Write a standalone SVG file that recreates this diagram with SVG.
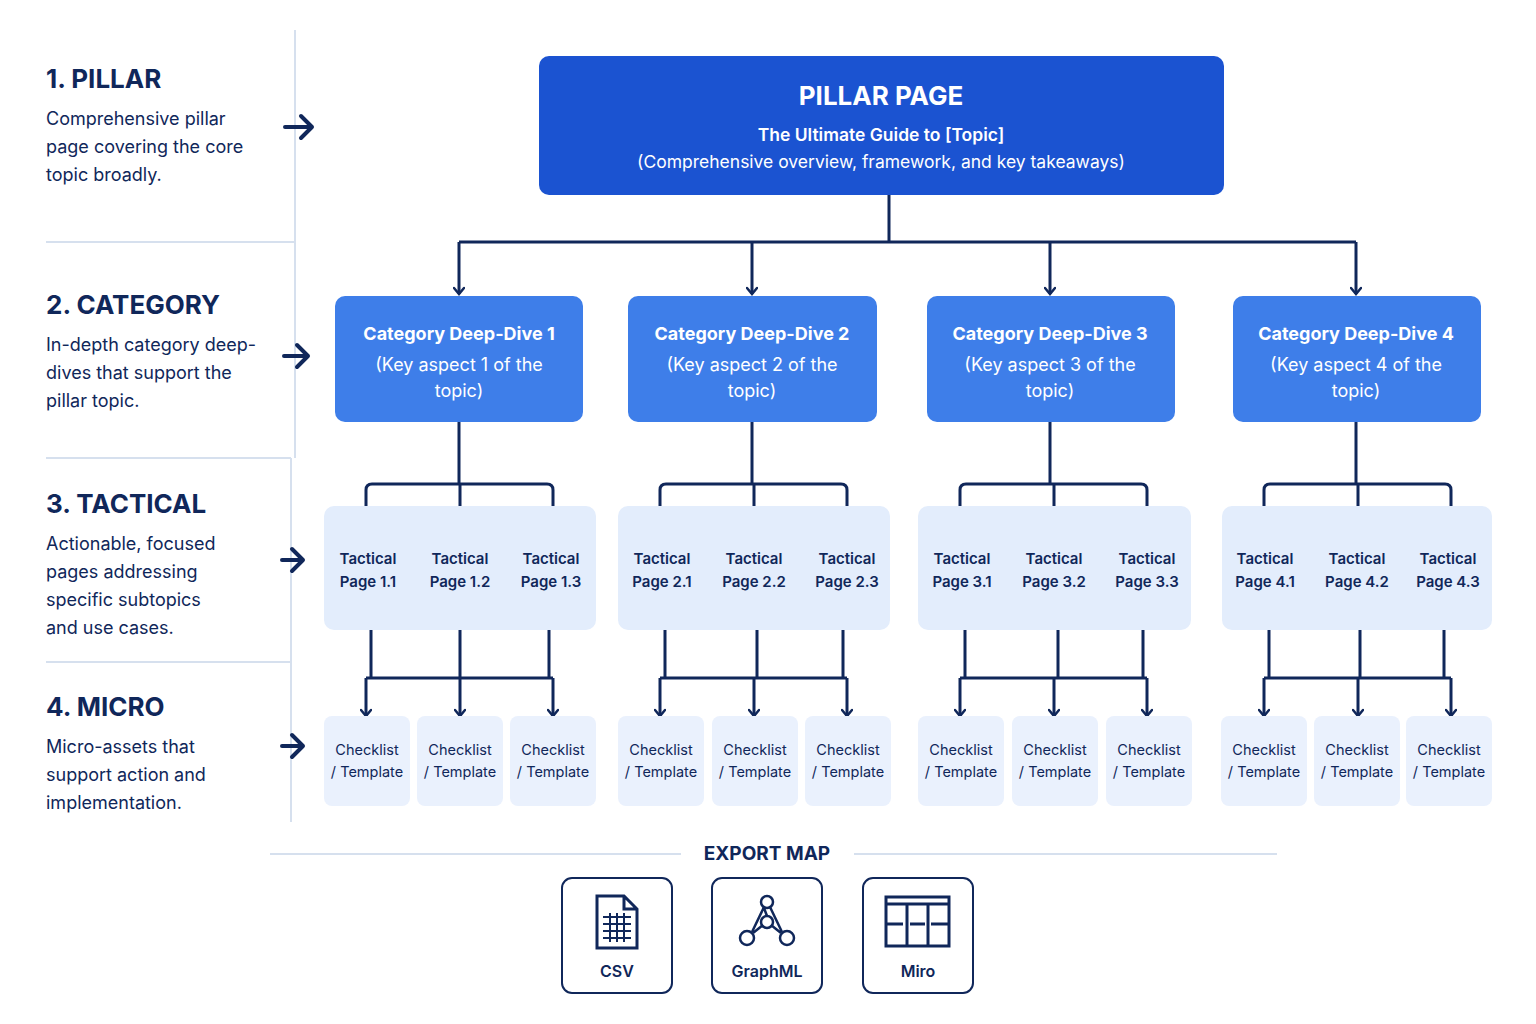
<svg xmlns="http://www.w3.org/2000/svg" width="1536" height="1024" viewBox="0 0 1536 1024">
<defs>
<marker id="ah" viewBox="0 0 12 12" refX="10" refY="6" markerWidth="12" markerHeight="12" markerUnits="userSpaceOnUse" orient="auto"><path d="M4 1 L10 6 L4 11" fill="none" stroke="#10275a" stroke-width="2.5" stroke-linecap="round"/></marker>
<style>
text{font-family:Inter,"Liberation Sans",sans-serif}
.ln{fill:none;stroke:#10275a;stroke-width:3}
.ar{marker-end:url(#ah)}
.sep{stroke:#d6e0ee;stroke-width:2}
.h{font-size:26px;font-weight:700;fill:#10275a}
.d{font-size:18px;fill:#10275a}
.cat{fill:#3e7ee9}
.ct{fill:#fff;font-size:18px;text-anchor:middle}
.tac{fill:#e3edfc}
.tt{fill:#10275a;font-size:15px;font-weight:600;text-anchor:middle}
.chk{fill:#eaf1fd}
.kt{fill:#10275a;font-size:14.5px;text-anchor:middle}
.ex{fill:#fff;stroke:#10275a;stroke-width:2}
.ic{fill:none;stroke:#10275a;stroke-width:3}
.big{fill:none;stroke:#10275a;stroke-width:4;stroke-linecap:round;stroke-linejoin:round}
</style>
</defs>
<rect width="1536" height="1024" fill="#fff"/>
<g id="legend">
<line class="sep" x1="295" y1="30" x2="295" y2="458"/>
<line class="sep" x1="291" y1="458" x2="291" y2="822"/>
<line class="sep" x1="46" y1="242" x2="295" y2="242"/>
<line class="sep" x1="46" y1="458" x2="291" y2="458"/>
<line class="sep" x1="46" y1="662" x2="291" y2="662"/>
<text class="h" x="46" y="88">1. PILLAR</text>
<text class="d" x="46" y="125">Comprehensive pillar</text><text class="d" x="46" y="153">page covering the core</text><text class="d" x="46" y="181">topic broadly.</text>
<text class="h" x="46" y="314">2. CATEGORY</text>
<text class="d" x="46" y="351">In-depth category deep-</text><text class="d" x="46" y="379">dives that support the</text><text class="d" x="46" y="407">pillar topic.</text>
<text class="h" x="46" y="513">3. TACTICAL</text>
<text class="d" x="46" y="550">Actionable, focused</text><text class="d" x="46" y="578">pages addressing</text><text class="d" x="46" y="606">specific subtopics</text><text class="d" x="46" y="634">and use cases.</text>
<text class="h" x="46" y="716">4. MICRO</text>
<text class="d" x="46" y="753">Micro-assets that</text><text class="d" x="46" y="781">support action and</text><text class="d" x="46" y="809">implementation.</text>
<path class="big" d="M285 127H312M301 116L312 127L301 138"/>
<path class="big" d="M284 356H308M297 345L308 356L297 367"/>
<path class="big" d="M282 560H303M292 549L303 560L292 571"/>
<path class="big" d="M282 746H303M292 735L303 746L292 757"/>
</g>
<g id="connectors">
<path class="ln" d="M889 195V242M459 242H1356"/>
<path class="ln ar" d="M459 242V294"/><path class="ln ar" d="M752 242V294"/><path class="ln ar" d="M1050 242V294"/><path class="ln ar" d="M1356 242V294"/>
<g id="c1"><path class="ln" d="M459 422V484M366 518V490Q366 484 372 484H547Q553 484 553 490V518M460 484V518"/><path class="ln" d="M371 630V678M460 630V678M549 630V678M366 678H553"/><path class="ln ar" d="M366 678V716"/><path class="ln ar" d="M460 678V716"/><path class="ln ar" d="M553 678V716"/></g>
<g transform="translate(294,0)"><path class="ln" d="M458 422V484M366 518V490Q366 484 372 484H547Q553 484 553 490V518M460 484V518"/><path class="ln" d="M371 630V678M463 630V678M549 630V678M366 678H553"/><path class="ln ar" d="M366 678V716"/><path class="ln ar" d="M460 678V716"/><path class="ln ar" d="M553 678V716"/></g>
<g transform="translate(594,0)"><path class="ln" d="M456 422V484M366 518V490Q366 484 372 484H547Q553 484 553 490V518M460 484V518"/><path class="ln" d="M371 630V678M464 630V678M549 630V678M366 678H553"/><path class="ln ar" d="M366 678V716"/><path class="ln ar" d="M460 678V716"/><path class="ln ar" d="M553 678V716"/></g>
<g transform="translate(898,0)"><path class="ln" d="M458 422V484M366 518V490Q366 484 372 484H547Q553 484 553 490V518M460 484V518"/><path class="ln" d="M371 630V678M462 630V678M546 630V678M366 678H553"/><path class="ln ar" d="M366 678V716"/><path class="ln ar" d="M460 678V716"/><path class="ln ar" d="M553 678V716"/></g>
</g>
<g id="pillar">
<rect x="539" y="56" width="685" height="139" rx="10" fill="#1b53d1"/>
<text x="881" y="105" fill="#fff" font-size="26" font-weight="700" text-anchor="middle">PILLAR PAGE</text>
<text x="881" y="141" fill="#fff" font-size="17.5" font-weight="600" text-anchor="middle">The Ultimate Guide to [Topic]</text>
<text x="881" y="168" fill="#fff" font-size="17.5" text-anchor="middle">(Comprehensive overview, framework, and key takeaways)</text>
</g>
<g id="cat1"><rect class="cat" x="335" y="296" width="248" height="126" rx="10"/><text class="ct" x="459" y="340" font-weight="700">Category Deep-Dive 1</text><text class="ct" x="459" y="371">(Key aspect 1 of the</text><text class="ct" x="459" y="397">topic)</text></g>
<g id="cat2"><rect class="cat" x="628" y="296" width="249" height="126" rx="10"/><text class="ct" x="752" y="340" font-weight="700">Category Deep-Dive 2</text><text class="ct" x="752" y="371">(Key aspect 2 of the</text><text class="ct" x="752" y="397">topic)</text></g>
<g id="cat3"><rect class="cat" x="927" y="296" width="248" height="126" rx="10"/><text class="ct" x="1050" y="340" font-weight="700">Category Deep-Dive 3</text><text class="ct" x="1050" y="371">(Key aspect 3 of the</text><text class="ct" x="1050" y="397">topic)</text></g>
<g id="cat4"><rect class="cat" x="1233" y="296" width="248" height="126" rx="10"/><text class="ct" x="1356" y="340" font-weight="700">Category Deep-Dive 4</text><text class="ct" x="1356" y="371">(Key aspect 4 of the</text><text class="ct" x="1356" y="397">topic)</text></g>
<g id="tac1"><rect class="tac" x="324" y="506" width="272" height="124" rx="10"/>
<text class="tt" x="368" y="564">Tactical</text><text class="tt" x="368" y="587">Page 1.1</text><text class="tt" x="460" y="564">Tactical</text><text class="tt" x="460" y="587">Page 1.2</text><text class="tt" x="551" y="564">Tactical</text><text class="tt" x="551" y="587">Page 1.3</text></g>
<g id="tac2"><rect class="tac" x="618" y="506" width="272" height="124" rx="10"/>
<text class="tt" x="662" y="564">Tactical</text><text class="tt" x="662" y="587">Page 2.1</text><text class="tt" x="754" y="564">Tactical</text><text class="tt" x="754" y="587">Page 2.2</text><text class="tt" x="847" y="564">Tactical</text><text class="tt" x="847" y="587">Page 2.3</text></g>
<g id="tac3"><rect class="tac" x="918" y="506" width="273" height="124" rx="10"/>
<text class="tt" x="962" y="564">Tactical</text><text class="tt" x="962" y="587">Page 3.1</text><text class="tt" x="1054" y="564">Tactical</text><text class="tt" x="1054" y="587">Page 3.2</text><text class="tt" x="1147" y="564">Tactical</text><text class="tt" x="1147" y="587">Page 3.3</text></g>
<g id="tac4"><rect class="tac" x="1222" y="506" width="270" height="124" rx="10"/>
<text class="tt" x="1265" y="564">Tactical</text><text class="tt" x="1265" y="587">Page 4.1</text><text class="tt" x="1357" y="564">Tactical</text><text class="tt" x="1357" y="587">Page 4.2</text><text class="tt" x="1448" y="564">Tactical</text><text class="tt" x="1448" y="587">Page 4.3</text></g>
<g id="micro">
<g id="m1"><rect class="chk" x="324" y="716" width="86" height="90" rx="8"/><text class="kt" x="367" y="755">Checklist</text><text class="kt" x="367" y="777">/ Template</text></g>
<g id="m2"><rect class="chk" x="417" y="716" width="86" height="90" rx="8"/><text class="kt" x="460" y="755">Checklist</text><text class="kt" x="460" y="777">/ Template</text></g>
<g id="m3"><rect class="chk" x="510" y="716" width="86" height="90" rx="8"/><text class="kt" x="553" y="755">Checklist</text><text class="kt" x="553" y="777">/ Template</text></g>
<g id="m4"><rect class="chk" x="618" y="716" width="86" height="90" rx="8"/><text class="kt" x="661" y="755">Checklist</text><text class="kt" x="661" y="777">/ Template</text></g>
<g id="m5"><rect class="chk" x="712" y="716" width="86" height="90" rx="8"/><text class="kt" x="755" y="755">Checklist</text><text class="kt" x="755" y="777">/ Template</text></g>
<g id="m6"><rect class="chk" x="805" y="716" width="86" height="90" rx="8"/><text class="kt" x="848" y="755">Checklist</text><text class="kt" x="848" y="777">/ Template</text></g>
<g id="m7"><rect class="chk" x="918" y="716" width="86" height="90" rx="8"/><text class="kt" x="961" y="755">Checklist</text><text class="kt" x="961" y="777">/ Template</text></g>
<g id="m8"><rect class="chk" x="1012" y="716" width="86" height="90" rx="8"/><text class="kt" x="1055" y="755">Checklist</text><text class="kt" x="1055" y="777">/ Template</text></g>
<g id="m9"><rect class="chk" x="1106" y="716" width="86" height="90" rx="8"/><text class="kt" x="1149" y="755">Checklist</text><text class="kt" x="1149" y="777">/ Template</text></g>
<g id="m10"><rect class="chk" x="1221" y="716" width="86" height="90" rx="8"/><text class="kt" x="1264" y="755">Checklist</text><text class="kt" x="1264" y="777">/ Template</text></g>
<g id="m11"><rect class="chk" x="1314" y="716" width="86" height="90" rx="8"/><text class="kt" x="1357" y="755">Checklist</text><text class="kt" x="1357" y="777">/ Template</text></g>
<g id="m12"><rect class="chk" x="1406" y="716" width="86" height="90" rx="8"/><text class="kt" x="1449" y="755">Checklist</text><text class="kt" x="1449" y="777">/ Template</text></g>
</g>
<g id="export">
<line class="sep" x1="270" y1="854" x2="681" y2="854"/><line class="sep" x1="854" y1="854" x2="1277" y2="854"/>
<text x="767" y="860" fill="#10275a" font-size="19" font-weight="700" text-anchor="middle">EXPORT MAP</text>
<g id="csv"><rect class="ex" x="562" y="878" width="110" height="115" rx="10"/>
<path class="ic" d="M597 896H624L637 909V948H597Z M624 896V909H637"/><path fill="none" stroke="#10275a" stroke-width="2" d="M603 917H631M603 924H631M603 931H631M603 938H631M610 913V942M617 913V942M624 913V942"/>
<text x="617" y="977" fill="#10275a" font-size="16" font-weight="600" text-anchor="middle">CSV</text></g>
<g id="graphml"><rect class="ex" x="712" y="878" width="110" height="115" rx="10"/>
<g fill="none" stroke="#10275a" stroke-width="2.5"><circle cx="767" cy="902" r="6"/><circle cx="767" cy="922" r="6"/><circle cx="747" cy="938" r="7"/><circle cx="787" cy="938" r="7"/><path d="M764 907L752 932M770 907L782 932M764 908L767 916M763 925L753 933M771 925L781 933"/></g>
<text x="767" y="977" fill="#10275a" font-size="16" font-weight="600" text-anchor="middle">GraphML</text></g>
<g id="miro"><rect class="ex" x="863" y="878" width="110" height="115" rx="10"/>
<path class="ic" d="M886 897H949V946H886Z M886 904H949 M907 904V946 M928 904V946 M886 924H903 M910 924H925 M931 924H949"/>
<text x="918" y="977" fill="#10275a" font-size="16" font-weight="600" text-anchor="middle">Miro</text></g>
</g>
</svg>
